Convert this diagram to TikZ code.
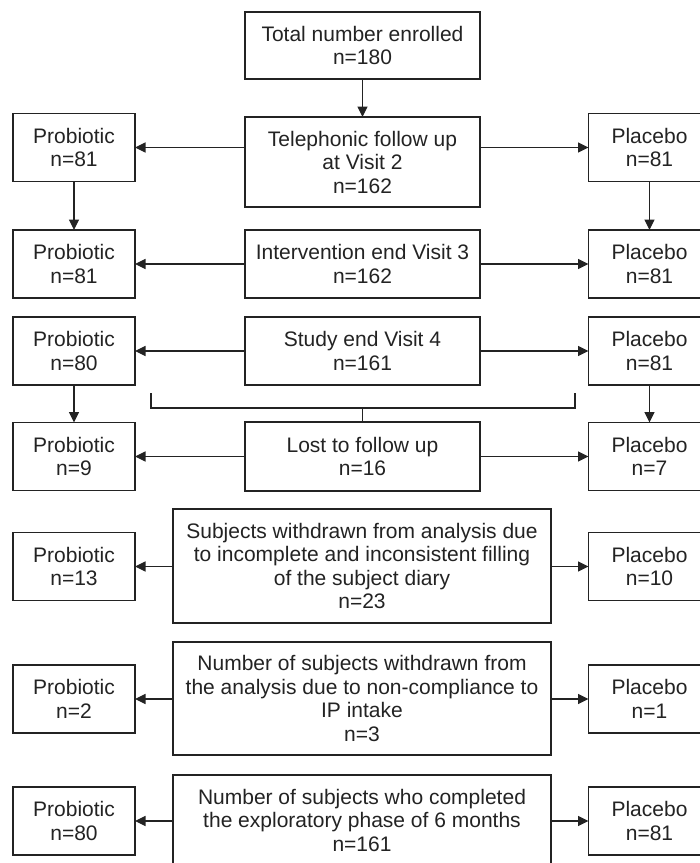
\documentclass[tikz,border=0pt]{standalone}
\usepackage{fontspec}
\setsansfont{Liberation Sans}
\usetikzlibrary{arrows.meta}
\definecolor{inkGray}{RGB}{35,35,35}
\tikzset{
	box/.style={
		draw=inkGray,
		line width=1.1pt,
		minimum width=235pt,
		minimum height=68pt,
		inner sep=0pt,
		outer sep=0pt,
		align=center,
		text=inkGray,
	},
	widebox/.style={
		box,
		minimum width=378pt,
		minimum height=113pt,
	},
	sidebox/.style={
		box,
		minimum width=122pt,
		minimum height=68pt,
	},
	flow/.style={
		-{Triangle[length=10.5pt,width=10pt]},
		line width=1.1pt,
		draw=inkGray,
	},
	bracket/.style={
		line width=1.1pt,
		draw=inkGray,
	}
}

\begin{document}
\begin{tikzpicture}[
			x=1pt, y=-1pt,
			every node/.style={font=\sffamily\fontsize{21}{23.5}\selectfont}
			]
			\useasboundingbox[fill=white] (0,0) rectangle (700,863);
			
			% --- Middle column ---
			\node[box, minimum height=67pt] (enrolled) at (362.5,45.5) {Total number enrolled\\n=180};
			\node[box, minimum height=90pt] (visit2) at (362.5,162) {Telephonic follow up\\at Visit 2\\n=162};
			\node[box] (visit3) at (362.5,264) {Intervention end Visit 3\\n=162};
			\node[box] (visit4) at (362.5,351) {Study end Visit 4\\n=161};
			\node[box, minimum height=69pt] (lost) at (362.5,456.5) {Lost to follow up\\n=16};
			\node[widebox, minimum height=114pt] (diary) at (362,566) {Subjects withdrawn from analysis due\\to incomplete and inconsistent filling\\of the subject diary\\n=23};
			\node[widebox] (intake) at (362,698.5) {Number of subjects withdrawn from\\the analysis due to non-compliance to\\IP intake\\n=3};
			\node[widebox, minimum height=90pt] (done) at (362,820) {Number of subjects who completed\\the exploratory phase of 6 months\\n=161};
			
			% --- Probiotic column ---
			\node[sidebox] (probA) at (74,147.5) {Probiotic\\n=81};
			\node[sidebox] (probB) at (74,264) {Probiotic\\n=81};
			\node[sidebox] (probC) at (74,351) {Probiotic\\n=80};
			\node[sidebox] (probD) at (74,456.5) {Probiotic\\n=9};
			\node[sidebox] (probE) at (74,566.5) {Probiotic\\n=13};
			\node[sidebox] (probF) at (74,699) {Probiotic\\n=2};
			\node[sidebox] (probG) at (74,821) {Probiotic\\n=80};
			
			% --- Placebo column (runs past the right edge) ---
			\node[sidebox] (placA) at (649.5,147.5) {Placebo\\n=81};
			\node[sidebox] (placB) at (649.5,264) {Placebo\\n=81};
			\node[sidebox] (placC) at (649.5,351) {Placebo\\n=81};
			\node[sidebox] (placD) at (649.5,456.5) {Placebo\\n=7};
			\node[sidebox] (placE) at (649.5,566.5) {Placebo\\n=10};
			\node[sidebox] (placF) at (649.5,699) {Placebo\\n=1};
			\node[sidebox] (placG) at (649.5,821) {Placebo\\n=81};
			
			% --- Flows ---
			\draw[flow] (enrolled) -- (visit2);
			\draw[flow] (visit2.west |- probA.east) -- (probA.east);
			\draw[flow] (visit2.east |- placA.west) -- (placA.west);
			\draw[flow] (visit3) -- (probB);
			\draw[flow] (visit3) -- (placB);
			\draw[flow] (visit4) -- (probC);
			\draw[flow] (visit4) -- (placC);
			\draw[flow] (lost) -- (probD);
			\draw[flow] (lost) -- (placD);
			\draw[flow] (diary.west |- probE.east) -- (probE.east);
			\draw[flow] (diary.east |- placE.west) -- (placE.west);
			\draw[flow] (intake.west |- probF.east) -- (probF.east);
			\draw[flow] (intake.east |- placF.west) -- (placF.west);
			\draw[flow] (done.west |- probG.east) -- (probG.east);
			\draw[flow] (done.east |- placG.west) -- (placG.west);
			
			% down the sides
			\draw[flow] (probA) -- (probB);
			\draw[flow] (placA) -- (placB);
			\draw[flow] (probC) -- (probD);
			\draw[flow] (placC) -- (placD);
			
			% bracket over the lost row
			\coordinate (brL) at (151,393);
			\coordinate (brR) at (575,393);
			\coordinate (brM) at (362.5,408);
			\draw[bracket] (brL) |- (brM) -| (brR);
			\draw[bracket] (brM) -- (lost.north);
		\end{tikzpicture}
\end{document}
